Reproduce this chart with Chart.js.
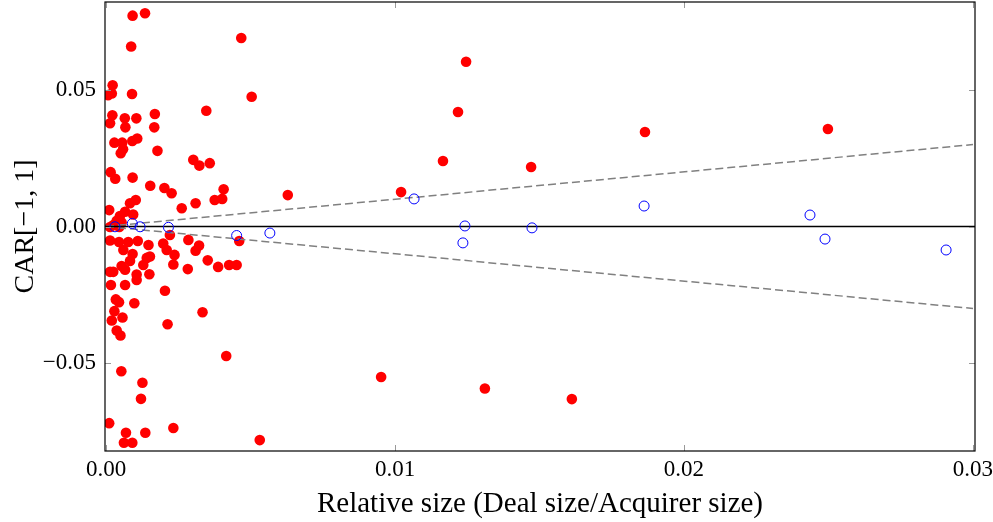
<!DOCTYPE html>
<html>
<head>
<meta charset="utf-8">
<script src="https://cdn.jsdelivr.net/npm/chart.js@4/dist/chart.umd.min.js"></script>
<style>
  html, body { margin: 0; padding: 0; background: #fff; }
  #wrap { width: 993px; height: 522px; }
</style>
</head>
<body>
<div id="wrap"><canvas id="chart" width="993" height="522"></canvas></div>
<script>
// Scatter: CAR[-1,1] vs relative deal size

// Red filled points (x = relative size, y = CAR)
const redX = [
  0.00092, 0.00135, 0.00468, 0.00087, 0.00023, 0.00007, 0.00020, 0.00090, 0.00504, 0.00347,
  0.00022, 0.00065, 0.00105, 0.00169, 0.00014, 0.00067, 0.00167, 0.00029, 0.00056, 0.00059,
  0.00051, 0.00091, 0.00108, 0.00178, 0.00302, 0.00323, 0.00359, 0.00016, 0.00032, 0.00092,
  0.00153, 0.00202, 0.00227, 0.00407, 0.00376, 0.00402, 0.00310, 0.00262, 0.00629, 0.00103,
  0.00083, 0.00011, 0.00066, 0.00094, 0.00048, 0.00037, 0.00054, 0.00025, 0.00014, 0.00046,
  0.00221, 0.00461, 0.00014, 0.00045, 0.00077, 0.00110, 0.00060, 0.00147, 0.00198, 0.00210,
  0.00237, 0.00285, 0.00322, 0.00310, 0.00092, 0.00083, 0.00141, 0.00152, 0.00129, 0.00233,
  0.00352, 0.00283, 0.00388, 0.00426, 0.00452, 0.00014, 0.00025, 0.00054, 0.00066, 0.00106,
  0.00150, 0.00106, 0.00017, 0.00066, 0.00204, 0.00034, 0.00045, 0.00098, 0.00029, 0.00020,
  0.00057, 0.00334, 0.00213, 0.00037, 0.00050, 0.00416, 0.00053, 0.00126, 0.00121, 0.00011,
  0.00069, 0.00136, 0.00233, 0.00062, 0.00091, 0.00532, 0.01246, 0.01218, 0.01166, 0.01021,
  0.01471, 0.01865, 0.02498, 0.00952, 0.01311, 0.01612
];
const redY = [
  0.0772, 0.0781, 0.0690, 0.0659, 0.0517, 0.0481, 0.0487, 0.0485, 0.0475, 0.0424,
  0.0407, 0.0396, 0.0396, 0.0412, 0.0378, 0.0363, 0.0363, 0.0307, 0.0307, 0.0283,
  0.0268, 0.0313, 0.0322, 0.0277, 0.0244, 0.0223, 0.0232, 0.0199, 0.0175, 0.0179,
  0.0149, 0.0141, 0.0122, 0.0136, 0.0097, 0.0101, 0.0085, 0.0067, 0.0115, 0.0097,
  0.0085, 0.0060, 0.0054, 0.0044, 0.0038, 0.0021, 0.0015, 0.0005, -0.0002, -0.0002,
  -0.0031, -0.0053, -0.0051, -0.0057, -0.0057, -0.0053, -0.0086, -0.0068, -0.0062, -0.0086,
  -0.0104, -0.0049, -0.0070, -0.0089, -0.0101, -0.0126, -0.0115, -0.0110, -0.0141, -0.0139,
  -0.0124, -0.0156, -0.0148, -0.0141, -0.0141, -0.0166, -0.0166, -0.0145, -0.0158, -0.0176,
  -0.0175, -0.0196, -0.0214, -0.0214, -0.0235, -0.0267, -0.0277, -0.0281, -0.0310, -0.0344,
  -0.0333, -0.0314, -0.0358, -0.0381, -0.0399, -0.0474, -0.0530, -0.0572, -0.0631, -0.0720,
  -0.0755, -0.0755, -0.0738, -0.0792, -0.0792, -0.0782, 0.0603, 0.0419, 0.0240, 0.0126,
  0.0218, 0.0346, 0.0357, -0.0551, -0.0593, -0.0632
];

// Blue open circles
const blueX = [0.00031, 0.00091, 0.00118, 0.00216, 0.00452, 0.00567, 0.01066, 0.01242, 0.01235, 0.01474, 0.01862, 0.02436, 0.02488, 0.02907];
const blueY = [-0.0001, 0.0011, -0.0001, -0.0003, -0.0033, -0.0024, 0.0101, 0.0002, -0.0060, -0.0005, 0.0075, 0.0042, -0.0046, -0.0086];

// Reference lines
const refX = [0, 0.03];
const upperY = [0, 0.03];
const lowerY = [0, -0.03];

// Axes
const xMin = -0.000035, xMax = 0.03007;
const yMin = -0.0822, yMax = 0.0822;
const xTicks = [0, 0.01, 0.02, 0.03];
const yTicks = [-0.05, 0, 0.05];

const zip = (xs, ys) => xs.map((x, i) => ({ x: x, y: ys[i] }));
const fmt = v => v.toFixed(2).replace('-', '\u2212');
const serif = "'Liberation Serif', 'DejaVu Serif', serif";

// frame + inward tick marks, pgfplots style
const framePlugin = {
    id: 'frame',
    afterDraw(chart) {
        const { ctx, chartArea: a, scales } = chart;
        ctx.save();
        ctx.strokeStyle = '#999';
        ctx.lineWidth = 1;
        ctx.beginPath();
        xTicks.forEach(t => {
            const px = Math.round(scales.x.getPixelForValue(t)) + 0.5;
            ctx.moveTo(px, a.bottom); ctx.lineTo(px, a.bottom - 6);
            ctx.moveTo(px, a.top); ctx.lineTo(px, a.top + 6);
        });
        yTicks.forEach(t => {
            const py = Math.round(scales.y.getPixelForValue(t)) + 0.5;
            ctx.moveTo(a.left, py); ctx.lineTo(a.left + 6, py);
            ctx.moveTo(a.right, py); ctx.lineTo(a.right - 6, py);
        });
        ctx.stroke();
        ctx.strokeStyle = '#000';
        ctx.lineWidth = 1.2;
        ctx.strokeRect(a.left, a.top, a.right - a.left, a.bottom - a.top);
        ctx.restore();
    }
};

new Chart(document.getElementById('chart'), {
    type: 'scatter',
    data: {
        datasets: [
            {
                label: 'blue',
                data: zip(blueX, blueY),
                pointStyle: 'circle',
                pointRadius: 5,
                pointBackgroundColor: 'rgba(0,0,0,0)',
                pointBorderColor: '#0000ff',
                pointBorderWidth: 1
            },
            {
                label: 'zero',
                type: 'line',
                data: zip([xMin, xMax], [0, 0]),
                borderColor: '#000',
                borderWidth: 1.4,
                pointRadius: 0
            },
            {
                label: 'upper',
                type: 'line',
                data: zip(refX, upperY),
                borderColor: '#808080',
                borderWidth: 1.5,
                borderDash: [8, 4],
                pointRadius: 0
            },
            {
                label: 'lower',
                type: 'line',
                data: zip(refX, lowerY),
                borderColor: '#808080',
                borderWidth: 1.5,
                borderDash: [8, 4],
                pointRadius: 0
            },
            {
                label: 'red',
                data: zip(redX, redY),
                pointRadius: 5.3,
                pointBackgroundColor: '#ff0000',
                pointBorderWidth: 0
            }
        ]
    },
    options: {
        responsive: false,
        animation: false,
        layout: { autoPadding: false, padding: { top: 2, right: 18, left: 0, bottom: 0 } },
        plugins: { legend: { display: false }, tooltip: { enabled: false } },
        scales: {
            x: {
                type: 'linear',
                min: xMin,
                max: xMax,
                afterBuildTicks: s => { s.ticks = xTicks.map(v => ({ value: v })); },
                afterFit: s => { s.height = 71; s.paddingLeft = 0; s.paddingRight = 0; },
                grid: { display: false, drawTicks: false },
                border: { display: false },
                ticks: {
                    color: '#000',
                    padding: 5,
                    font: { family: serif, size: 23 },
                    callback: v => fmt(v)
                },
                title: {
                    display: true,
                    text: 'Relative size (Deal size/Acquirer size)',
                    color: '#000',
                    font: { family: serif, size: 29, lineHeight: 1 },
                    padding: { top: 0, bottom: 3 }
                }
            },
            y: {
                type: 'linear',
                min: yMin,
                max: yMax,
                afterBuildTicks: s => { s.ticks = yTicks.map(v => ({ value: v })); },
                afterFit: s => { s.width = 105; s.paddingTop = 0; s.paddingBottom = 0; },
                grid: { display: false, drawTicks: false },
                border: { display: false },
                ticks: {
                    color: '#000',
                    padding: 9,
                    font: { family: serif, size: 23 },
                    callback: v => fmt(v)
                },
                title: {
                    display: true,
                    text: 'CAR[\u22121, 1]',
                    color: '#000',
                    font: { family: serif, size: 28, lineHeight: 1 },
                    padding: { top: 12, bottom: 0 }
                }
            }
        }
    },
    plugins: [framePlugin]
});
</script>
</body>
</html>
